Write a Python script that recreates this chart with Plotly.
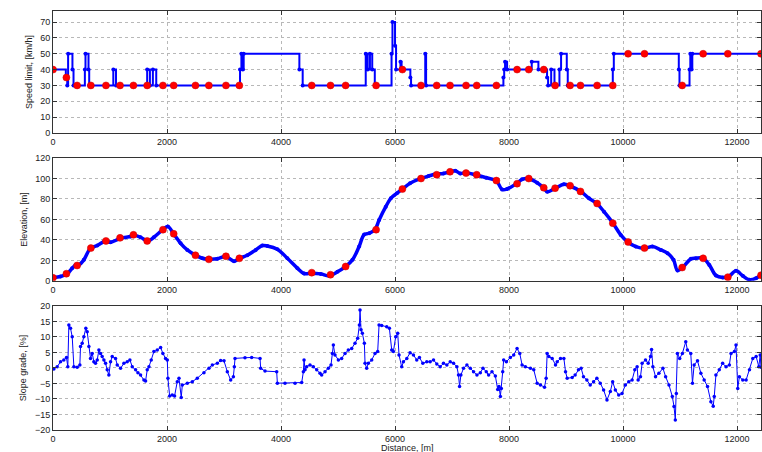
import plotly.graph_objects as go
from plotly.subplots import make_subplots

# speed limit profile, breakpoints [m] and limits [km/h]
speed_dist = [0, 225, 250, 265, 341, 360, 559, 570, 623, 635, 1058, 1105, 1652, 1700, 1752, 1811,
              3281, 3305, 3330, 3345, 4322, 4380, 5486, 5520, 5560, 5600, 5645, 5939, 5955, 6000,
              6018, 6095, 6115, 6269, 6281, 6530, 6545, 7901, 7915, 7930, 7966, 8398, 8515, 8667,
              8685, 8739, 8797, 8884, 8913, 9013, 9030, 9820, 9838, 10978, 10990, 11166, 11180,
              11200, 11215, 12420]
speed_val = [40, 35, 30, 50, 40, 30, 40, 50, 40, 30, 40, 30, 40, 30, 40, 30,
             40, 50, 40, 50, 40, 30, 50, 40, 50, 40, 30, 50, 70, 55,
             40, 45, 40, 35, 30, 50, 30, 35, 40, 45, 40, 45, 40, 35,
             30, 40, 30, 40, 50, 40, 30, 40, 50, 40, 30, 40, 50,
             40, 50, 50]

# elevation profile
elev_dist = [15, 132, 249, 336, 395, 454, 541, 658, 776, 922, 1010, 1185, 1361, 1419, 1536, 1665,
             1770, 1934, 2016, 2122, 2239, 2356, 2490, 2619, 2736, 2883, 3029, 3175, 3275, 3409,
             3556, 3673, 3760, 3936, 4111, 4287, 4404, 4533, 4697, 4843, 4990, 5124, 5253, 5370,
             5458, 5546, 5645, 5721, 5838, 5926, 6032, 6131, 6264, 6440, 6587, 6716, 6850, 6956,
             7056, 7144, 7243, 7425, 7601, 7777, 7877, 7965, 8129, 8229, 8346, 8493, 8610, 8669,
             8798, 8962, 9067, 9255, 9402, 9537, 9666, 9824, 9959, 10088, 10223, 10381, 10516,
             10663, 10780, 10886, 10956, 11044, 11190, 11278, 11396, 11513, 11630, 11748, 11853,
             11982, 12099, 12217, 12334, 12420]
elev_val = [3.3, 4.2, 6.8, 12.4, 15.3, 15.6, 20.5, 31.9, 34.5, 39, 37.7, 41.6, 43.3, 44.6, 42.6, 39,
            42.6, 50.4, 53, 45.5, 36.7, 30.2, 25.4, 22.1, 21.1, 21.5, 23.7, 19.2, 22.1, 25,
            30.2, 34.5, 34.1, 30.9, 22.1, 12.4, 7.2, 7.5, 6.8, 4.9, 8.8, 13.7, 20.5, 33.5,
            45.2, 46.5, 49.8, 59.5, 72.5, 80.7, 85.5, 89.8, 95.3, 99.8, 102.4, 104.4, 105, 106.3,
            107.6, 105, 105.7, 103.4, 100.8, 97.9, 89.4, 89.8, 95, 99.2, 99.8, 95.9, 90.7, 87.2,
            90.1, 94.3, 92.7, 87.5, 80.7, 75.8, 67.6, 56.3, 44.9, 37.7, 33.5, 31.9, 33.5,
            30.2, 27, 20.5, 10.1, 13, 21.5, 22.1, 22.1, 15.6, 5.2, 3.3, 4.2,
            9.8, 4.9, 1, 2.6, 5.9]

# stop / event points (red)
stop_dist = [0, 235, 423, 664, 929, 1176, 1411, 1652, 1929, 2117, 2499, 2734, 3034, 3269, 4539,
             4868, 5133, 5668, 6129, 6456, 6731, 6965, 7246, 7433, 7778, 8141, 8346, 8609, 8808,
             9071, 9253, 9545, 9820, 10089, 10376, 11037, 11405, 11838, 12420]
stop_speed = [40, 35, 30, 30, 30, 30, 30, 30, 30, 30, 30, 30, 30, 30, 30,
              30, 30, 30, 40, 30, 30, 30, 30, 30, 30, 40, 40, 40, 30,
              30, 30, 30, 30, 50, 50, 30, 50, 50, 50]
stop_elev = [3, 7, 15, 32, 39, 42, 45, 39, 50, 46, 25, 21, 24, 22, 8,
             6, 14, 50, 89.7, 100, 103.7, 106.6, 105.3, 103.7, 98, 95, 100, 91, 90.6,
             93, 87.4, 75.6, 56.4, 38, 32, 13, 22, 3.6, 5.5]

# slope grade
slope_dist = [15, 73, 132, 190, 237, 260, 278, 307, 337, 366, 424, 471, 483, 512, 541, 576, 600,
              629, 658, 688, 717, 746, 776, 805, 834, 863, 893, 922, 951, 980, 1010, 1039, 1097,
              1127, 1185, 1244, 1302, 1349, 1390, 1449, 1490, 1536, 1595, 1624, 1653, 1683, 1723,
              1770, 1829, 1888, 1928, 1975, 2005, 2016, 2046, 2092, 2133, 2180, 2210, 2250, 2268,
              2356, 2444, 2531, 2648, 2736, 2795, 2883, 2941, 3000, 3058, 3117, 3164, 3181, 3193,
              3368, 3485, 3632, 3643, 3719, 3924, 3936, 4070, 4246, 4363, 4392, 4404, 4421, 4450,
              4509, 4567, 4626, 4684, 4713, 4772, 4830, 4877, 4901, 4918, 4947, 5006, 5064, 5123,
              5181, 5240, 5298, 5345, 5375, 5386, 5404, 5427, 5462, 5474, 5503, 5532, 5591, 5649,
              5696, 5720, 5766, 5854, 5901, 5942, 5971, 6012, 6047, 6070, 6117, 6147, 6207, 6264,
              6323, 6381, 6428, 6487, 6557, 6616, 6675, 6733, 6792, 6850, 6909, 6968, 7026, 7085,
              7114, 7132, 7155, 7202, 7261, 7320, 7378, 7437, 7496, 7543, 7601, 7642, 7701, 7760,
              7801, 7824, 7848, 7865, 7889, 7906, 7953, 8023, 8082, 8141, 8188, 8229, 8287, 8375,
              8434, 8493, 8551, 8622, 8651, 8669, 8698, 8757, 8815, 8845, 8903, 8962, 8991, 9020,
              9108, 9159, 9218, 9265, 9306, 9365, 9424, 9483, 9541, 9600, 9659, 9718, 9777, 9818,
              9865, 9924, 9982, 10041, 10100, 10159, 10206, 10247, 10265, 10306, 10335, 10394,
              10441, 10482, 10500, 10523, 10570, 10629, 10700, 10747, 10806, 10864, 10894, 10917,
              10935, 10953, 10994, 11041, 11100, 11129, 11188, 11218, 11247, 11306, 11365, 11423,
              11482, 11541, 11582, 11600, 11629, 11688, 11747, 11806, 11865, 11894, 11953, 11982,
              12012, 12041, 12100, 12159, 12218, 12276, 12335, 12382, 12406, 12420]
slope_val = [-0.3, 0.4, 2, 2.6, 3.4, 0.4, 13.9, 12.8, 10.1, 0.4, 0.2, 1, 6.9, 8, 10.1, 12.8, 11.7,
             6.9, 3.1, 4.7, 2, 1.5, 2.6, 5.8, 4.7, 3.7, 2.6, 1.5, -0.6, -2.3, 2, 3.7, 3.1,
             1, -0.1, 1.5, 2, 2.6, 0.4, -0.6, -1.5, -2.3, -3.9, -4.2, -0.6, 0.4, 2.6,
             5.3, 5.8, 6.6, 4.7, 3.1, 2.6, -3.3, -9, -8.7, -9, -4.4, -3.3, -9.5, -5.5,
             -4.9, -4.4, -3.3, -1.5, -0.1, 1, 1.5, 2.4, 2.3, -1.2, -3.9, -2.8, 0.4, 3.1,
             3.3, 3.4, 3.1, -0.1, -1, -1.2, -4.9, -4.9, -4.9, -4.7, -1.2, 2.6, -0.6, 0.4,
             1, 0.4, -0.6, -1.7, -2.3, -1.2, -0.1, 1, 4.7, 7.4, 4.2, 2.6, 3.1, 4.7,
             5.8, 6.3, 8, 9.6, 13.9, 18.7, 12.3, 11.2, 8, 1.5, -0.1, 1.5, 2.6, 4.7,
             5.3, 13.9, 13.7, 13.3, 12.8, 5.8, 5.3, 10.1, 11.2, 4.2, 0.4, 2, 3.1, 4.9,
             4.2, 2.6, 3.4, 1.5, 2, 2, 2.6, 1.3, 0.4, 1.5, 1, 2, 1.5, 0.4,
             -2.3, -6, -2.3, -0.1, 1, -0.1, -1.2, -2.3, -1.5, -0.1, -1.2, -2.3, -1.2, -2.6,
             -6.9, -6, -9.2, -6.6, -1.2, 2.6, 2, 3.4, 4.2, 6.3, 4.7, 1, 0.4, -0.1,
             -0.6, -4.9, -5.5, -6.2, -3.3, 4.7, 3.7, 3.1, 1, 2, 3.1, 3.1, -1.2, -3.3,
             -3.1, -2.3, -0.6, -0.1, -2.8, -3.9, -5.5, -4.4, -3.3, -4.9, -7.1, -10.3, -7.6, -4.4,
             -7.1, -8.7, -8.2, -5.5, -4.4, -3.9, -0.6, 0.4, -3.9, -2.8, 1.5, 2.6,
             1.5, 3.7, 6, 0.4, -2.8, -1.7, -0.1, -2.8, -5.5, -9.2, -12.4, -16.8,
             -8.2, 4.7, 3.1, 4.7, 8.5, 5.8, 4.7, -4.9, 1, 2.3, -1.7, -3.9,
             -6, -10.9, -12.3, -9.2, -2.3, -0.6, 1.5, 0.4, 1, 4.7, 5.3, 7.4,
             -6.6, -2.8, -3.9, -3.9, -0.6, 3.1, 3.7, 0.4, 4.2, 0.2]

x_ticks = [0, 2000, 4000, 6000, 8000, 10000, 12000]
x_ticktext = [str(v) for v in x_ticks]

fig = make_subplots(rows=3, cols=1)

BLUE = '#0000ff'
fig.add_trace(go.Scatter(x=speed_dist, y=speed_val, mode='lines+markers', line_shape='hv',
                         line=dict(color=BLUE, width=2), marker=dict(color=BLUE, size=4),
                         showlegend=False, hoverinfo='skip'), row=1, col=1)
fig.add_trace(go.Scatter(x=stop_dist, y=stop_speed, mode='markers',
                         marker=dict(color='#ff0000', size=7, line=dict(color='#cc0000', width=0.5)),
                         showlegend=False), row=1, col=1)

fig.add_trace(go.Scatter(x=elev_dist, y=elev_val, mode='lines+markers', line_shape='spline',
                         line=dict(color=BLUE, width=3.5), marker=dict(color=BLUE, size=4),
                         showlegend=False, hoverinfo='skip'), row=2, col=1)
fig.add_trace(go.Scatter(x=stop_dist, y=stop_elev, mode='markers',
                         marker=dict(color='#ff0000', size=7, line=dict(color='#cc0000', width=0.5)),
                         showlegend=False), row=2, col=1)

fig.add_trace(go.Scatter(x=slope_dist, y=slope_val, mode='lines+markers',
                         line=dict(color=BLUE, width=1), marker=dict(color=BLUE, size=3.5),
                         showlegend=False, hoverinfo='skip'), row=3, col=1)

axis_style = dict(showline=True, linecolor='#333333', linewidth=1, mirror='ticks',
                  ticks='inside', ticklen=4, tickcolor='#333333', automargin=False,
                  showgrid=True, gridcolor='#b8b8b8', griddash='dot', gridwidth=1,
                  zeroline=False, tickfont=dict(size=9, color='#222222'))

for r in (1, 2, 3):
    fig.update_xaxes(range=[0, 12420], tickvals=x_ticks, ticktext=x_ticktext, row=r, col=1, **axis_style)

fig.update_yaxes(range=[0, 77], tickvals=[0, 10, 20, 30, 40, 50, 60, 70], row=1, col=1,
                 title=dict(text='Speed limit, [km/h]', font=dict(size=9), standoff=6), **axis_style)
fig.update_yaxes(range=[0, 120], tickvals=[0, 20, 40, 60, 80, 100, 120], row=2, col=1,
                 title=dict(text='Elevation, [m]', font=dict(size=9), standoff=6), **axis_style)
fig.update_yaxes(range=[-20, 20], tickvals=[-20, -15, -10, -5, 0, 5, 10, 15, 20], row=3, col=1,
                 title=dict(text='Slope grade, [%]', font=dict(size=9), standoff=6), **axis_style)

fig.add_annotation(text='Distance, [m]', xref='paper', yref='paper', x=0.5, y=0,
                   yshift=-18, yanchor='middle', showarrow=False, font=dict(size=9, color='#222222'))

fig.update_layout(
    width=762, height=452,
    margin=dict(l=53, r=1, t=11, b=22),
    paper_bgcolor='white', plot_bgcolor='white',
    font=dict(family='Liberation Sans, Arial, sans-serif', color='#222222'),
    yaxis=dict(domain=[0.709, 1.0]),
    yaxis2=dict(domain=[0.356, 0.649]),
    yaxis3=dict(domain=[0.0, 0.296]),
)

# drop the page's default body margin so the figure sits at the window origin
fig.write_html("out.html", config={'displayModeBar': False},
               post_script="document.body.style.margin='0';")
